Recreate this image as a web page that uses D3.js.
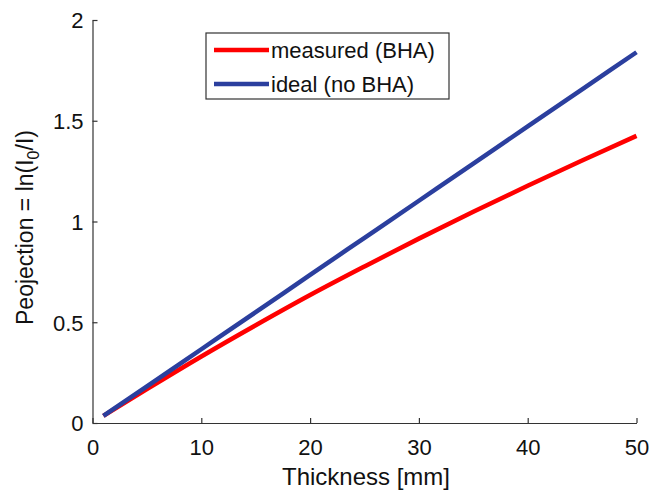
<!DOCTYPE html>
<html>
<head>
<meta charset="utf-8">
<script src="https://cdn.jsdelivr.net/npm/d3@7"></script>
<style>
  body { margin: 0; background: #fff; }
  svg text { font-family: "Liberation Sans", Arial, sans-serif; fill: #111; }
</style>
</head>
<body>
<svg id="chart" width="649" height="492"></svg>
<script>
'use strict'

// thickness in mm
const thickness = [1, 5, 10, 15, 20, 25, 30, 35, 40, 45, 50]
// ln(I0/I)
const measured = [0.035, 0.168, 0.33, 0.485, 0.635, 0.777, 0.915, 1.048, 1.177, 1.303, 1.425]
const ideal = [0.035, 0.182, 0.366, 0.55, 0.735, 0.919, 1.103, 1.287, 1.472, 1.656, 1.84]

const xTicks = [0, 10, 20, 30, 40, 50]
const yTicks = [0, 0.5, 1, 1.5, 2]
const yTickLabels = ['0', '0.5', '1', '1.5', '2']

const seriesNames = ['measured (BHA)', 'ideal (no BHA)']
const seriesColors = ['#ff0000', '#2b3f9e']

function draw(){
	let svg = d3.select('#chart')

	let x = d3.scaleLinear().domain([0, 50]).range([92.5, 636.5])
	let y = d3.scaleLinear().domain([0, 2]).range([423, 20])

	let xAxis = d3.axisBottom(x)
		.tickValues(xTicks)
		.tickFormat(d3.format('d'))
		.tickSizeInner(-5)
		.tickSizeOuter(0)
		.tickPadding(16)

	let yAxis = d3.axisLeft(y)
		.tickValues(yTicks)
		.tickFormat((d, i) => yTickLabels[i])
		.tickSizeInner(-5)
		.tickSizeOuter(0)
		.tickPadding(9)

	let gx = svg.append('g')
		.attr('transform', 'translate(0,' + y(0) + ')')
		.call(xAxis)
	let gy = svg.append('g')
		.attr('transform', 'translate(' + x(0) + ',0)')
		.call(yAxis)

	for (let g of [gx, gy]) {
		g.select('.domain').attr('stroke', '#333').attr('stroke-width', 1.2)
		g.selectAll('.tick line').attr('stroke', '#333').attr('stroke-width', 1.2)
		g.selectAll('.tick text').attr('font-size', 22).attr('fill', '#111')
			.attr('font-family', '"Liberation Sans", Arial, sans-serif')
	}
	gy.selectAll('.tick text').attr('dy', '0.36em')
	gx.selectAll('.tick text').attr('dy', '0.71em')

	let line = d3.line()
		.x((d, i) => x(thickness[i]))
		.y(d => y(d))
		.curve(d3.curveMonotoneX)

	let series = [measured, ideal]
	series.forEach((s, k) => {
		svg.append('path')
			.datum(s)
			.attr('d', line)
			.attr('fill', 'none')
			.attr('stroke', seriesColors[k])
			.attr('stroke-width', 4.5)
			.attr('stroke-linecap', 'butt')
	})

	// legend
	let lg = svg.append('g').attr('transform', 'translate(206,33)')
	lg.append('rect')
		.attr('width', 243).attr('height', 66)
		.attr('fill', '#fff').attr('stroke', '#333').attr('stroke-width', 1.2)
	seriesNames.forEach((name, k) => {
		let ly = 17 + k * 34
		lg.append('line')
			.attr('x1', 8).attr('x2', 63)
			.attr('y1', ly).attr('y2', ly)
			.attr('stroke', seriesColors[k]).attr('stroke-width', 4.5)
		lg.append('text')
			.attr('x', 65).attr('y', ly)
			.attr('dy', '0.36em')
			.attr('font-size', 22)
			.text(name)
	})

	// axis labels
	svg.append('text')
		.attr('x', 366)
		.attr('y', 485)
		.attr('text-anchor', 'middle')
		.attr('font-size', 24)
		.text('Thickness [mm]')

	let yl = svg.append('text')
		.attr('transform', 'translate(33,' + ((y(0) + y(2)) / 2 + 6) + ') rotate(-90)')
		.attr('text-anchor', 'middle')
		.attr('font-size', 23)
	yl.append('tspan').text('Peojection = ln(I')
	yl.append('tspan').attr('font-size', 16).attr('dy', 6).text('0')
	yl.append('tspan').attr('dy', -6).text('/I)')
}

draw()
</script>
</body>
</html>
